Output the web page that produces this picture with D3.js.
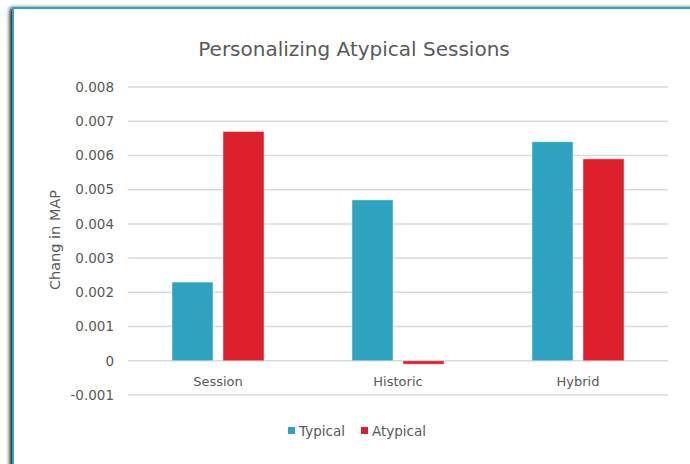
<!DOCTYPE html>
<html>
<head>
<meta charset="utf-8">
<script src="https://cdn.jsdelivr.net/npm/d3@7"></script>
<style>
  html, body { margin: 0; padding: 0; background: #fff; }
  svg { display: block; }
  text { font-family: "DejaVu Sans", sans-serif; fill: #595959; }
</style>
</head>
<body>
<svg id="chart" width="690" height="464"></svg>
<script>
// Chart data
const categories = ["Session", "Historic", "Hybrid"];
const seriesNames = ["Typical", "Atypical"];
const typicalValues = [0.0023, 0.0047, 0.0064];
const atypicalValues = [0.0067, -0.0001, 0.0059];
const yTicks = [-0.001, 0, 0.001, 0.002, 0.003, 0.004, 0.005, 0.006, 0.007, 0.008];
const colors = ["#2DA3C1", "#DD1F2B"];

const svg = d3.select("#chart");
const W = 690, H = 464;

// Panel frame with soft shadow
const defs = svg.append("defs");
const f = defs.append("filter").attr("id", "shadow").attr("x", "-5%").attr("y", "-5%").attr("width", "110%").attr("height", "110%");
f.append("feGaussianBlur").attr("in", "SourceAlpha").attr("stdDeviation", 2);
f.append("feOffset").attr("dx", -2).attr("dy", 1).attr("result", "blur");
const fm = f.append("feMerge");
fm.append("feMergeNode").attr("in", "blur");
fm.append("feMergeNode").attr("in", "SourceGraphic");

svg.append("rect")
  .attr("x", 13).attr("y", 8)
  .attr("width", W + 20).attr("height", H + 20)
  .attr("fill", "#fff")
  .attr("stroke", "#2DA3C1")
  .attr("stroke-width", 2)
  .attr("filter", "url(#shadow)");

const x0 = d3.scaleBand().domain(categories).range([128, 668]).paddingInner(0).paddingOuter(0);
const y = d3.scaleLinear().domain([-0.001, 0.008]).range([395, 87]);

// Gridlines
svg.append("g").selectAll("line").data(yTicks).join("line")
  .attr("x1", 128).attr("x2", 668)
  .attr("y1", d => y(d)).attr("y2", d => y(d))
  .attr("stroke", "#D9D9D9").attr("stroke-width", 1.5);

// Y tick labels
const fmt = d => d === 0 ? "0" : d3.format(".3f")(d).replace("\u2212", "-");
svg.append("g").selectAll("text").data(yTicks).join("text")
  .attr("x", 114).attr("y", d => y(d))
  .attr("dy", "0.35em")
  .attr("text-anchor", "end")
  .style("font-size", "13.5px")
  .text(fmt);

// Bars
const barW = 41, gap = 10;
const x1 = d3.scaleBand().domain(seriesNames).range([0, barW * 2 + gap]).paddingInner(gap / (barW + gap));
const groupW = barW * 2 + gap;
const data = categories.map((c, i) => ({ c, vals: [typicalValues[i], atypicalValues[i]] }));

const groups = svg.append("g").selectAll("g").data(data).join("g")
  .attr("transform", d => `translate(${x0(d.c) + (x0.bandwidth() - groupW) / 2},0)`);

groups.selectAll("rect").data(d => d.vals.map((v, j) => ({ s: seriesNames[j], v, j })))
  .join("rect")
  .attr("x", d => x1(d.s))
  .attr("width", x1.bandwidth())
  .attr("y", d => Math.min(y(d.v), y(0)))
  .attr("height", d => Math.abs(y(d.v) - y(0)))
  .attr("fill", d => colors[d.j])
  .attr("stroke", "rgba(255,255,255,0.45)")
  .attr("stroke-width", 1);

// Category labels
svg.append("g").selectAll("text").data(categories).join("text")
  .attr("x", d => x0(d) + x0.bandwidth() / 2)
  .attr("y", 386)
  .attr("text-anchor", "middle")
  .style("font-size", "13px")
  .text(d => d);

// Title
svg.append("text")
  .attr("x", 354).attr("y", 56)
  .attr("text-anchor", "middle")
  .style("font-size", "20px")
  .text("Personalizing Atypical Sessions");

// Y axis title
svg.append("text")
  .attr("transform", "translate(60,240) rotate(-90)")
  .attr("text-anchor", "middle")
  .style("font-size", "14.5px")
  .text("Chang in MAP");

// Legend
const legendItems = [{ name: "Typical", x: 288 }, { name: "Atypical", x: 361 }];
const lg = svg.append("g").selectAll("g").data(legendItems).join("g")
  .attr("transform", d => `translate(${d.x},0)`);
lg.append("rect").attr("x", 0).attr("y", 427).attr("width", 7).attr("height", 7)
  .attr("fill", (d, i) => colors[i]);
lg.append("text").attr("x", 11).attr("y", 436)
  .style("font-size", "13.5px")
  .text(d => d.name);
</script>
</body>
</html>
